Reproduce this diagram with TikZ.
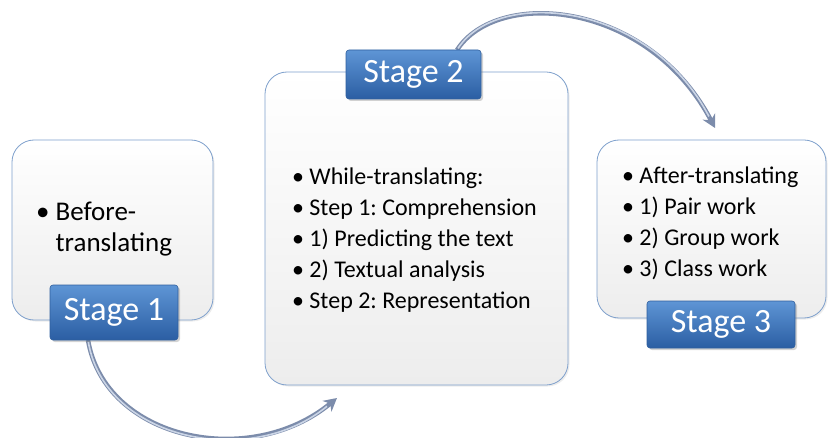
\documentclass[tikz,border=0pt]{standalone}
\usepackage{fontspec}
\setmainfont{Carlito}
\usetikzlibrary{arrows.meta,shadows}
\frenchspacing

\definecolor{panelline}{HTML}{7EA0CC}
\definecolor{panelgray}{HTML}{EDEDED}
\definecolor{stageline}{HTML}{2F5F9E}
\definecolor{stagetop}{HTML}{5E95D5}
\definecolor{stagebot}{HTML}{2B5EA3}
\definecolor{flowdark}{HTML}{7C8CAB}
\definecolor{flowlight}{HTML}{CBD5E6}

\newcommand{\blt}{\makebox[0.72em][l]{•}}

\begin{document}
\begin{tikzpicture}[x=1pt,y=-1pt,
  panel/.style={draw=panelline, line width=0.8pt, rounded corners=22pt,
    top color=white, bottom color=panelgray,
    drop shadow={opacity=0.15, shadow xshift=1.5pt, shadow yshift=-1.5pt}},
  stagebox/.style={draw=stageline, line width=0.6pt, rounded corners=3pt,
    top color=stagetop, bottom color=stagebot, text=white, inner sep=0pt,
    font=\fontsize{34}{40}\selectfont,
    drop shadow={opacity=0.35, shadow xshift=2pt, shadow yshift=-2pt}},
  itemlist/.style={align=left, anchor=west, inner sep=0pt},
  flow/.style={line width=4.5pt, draw=flowdark, -{Stealth[length=13pt,width=14pt]}},
  shine/.style={line width=1.6pt, draw=flowlight, shorten >=13pt, shorten <=2pt}
]
\useasboundingbox (0,0) rectangle (829,438);

% the three stages as rounded panels
\node[panel, minimum width=201pt, minimum height=180pt] (box1) at (112.5,230) {};
\node[panel, minimum width=303pt, minimum height=313pt] (box2) at (416.5,228.5) {};
\node[panel, minimum width=229pt, minimum height=178pt] (box3) at (711.5,229) {};

% what happens in each stage
\node[itemlist, font=\fontsize{27}{31}\selectfont] (list1) at (36,229)
  {\blt Before-\\\phantom{\blt}translating};
\node[itemlist, font=\fontsize{24}{31}\selectfont] (list2) at (292,240)
  {\blt While-translating:\\
   \blt Step 1: Comprehension\\
   \blt 1) Predicting the text\\
   \blt 2) Textual analysis\\
   \blt Step 2: Representation};
\node[itemlist, font=\fontsize{24}{31}\selectfont] (list3) at (622,223)
  {\blt After-translating\\
   \blt 1) Pair work\\
   \blt 2) Group work\\
   \blt 3) Class work};

% curved arrows from one stage to the next
\coordinate (end1) at (337,398);
\coordinate (end2) at (715,128);
\coordinate (start1) at (88,340);
\coordinate (start2) at (457,50);
\draw[flow] (start1) .. controls (105,440) and (250,470) .. (end1);
\draw[shine] (start1) .. controls (105,440) and (250,470) .. (end1);
\draw[flow] (start2) .. controls (497,-12) and (648,0) .. (end2);
\draw[shine] (start2) .. controls (497,-12) and (648,0) .. (end2);

% stage labels on the panel edges
\node[stagebox, minimum width=128pt, minimum height=55pt] (stage1) at (114,312.5) {Stage 1};
\node[stagebox, minimum width=135pt, minimum height=49pt] (stage2) at (413.5,74.5) {Stage 2};
\node[stagebox, minimum width=148pt, minimum height=47pt] (stage3) at (721,324.5) {Stage 3};
\end{tikzpicture}
\end{document}
